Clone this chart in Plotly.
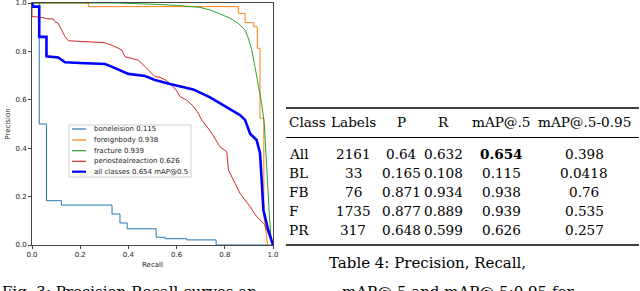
import plotly.graph_objects as go

# ---------------- data ----------------
class_names = ["boneleision", "foreignbody", "fracture", "periostealreaction"]
class_ap50 = [0.115, 0.938, 0.939, 0.626]
all_ap50 = 0.654

recall_bl = [0, 0.03, 0.03, 0.06, 0.06, 0.122, 0.122, 0.332, 0.332, 0.365, 0.365, 0.395, 0.395,
             0.515, 0.515, 0.552, 0.552, 0.642, 0.642, 0.764, 0.764, 1.0]
prec_bl = [1.0, 1.0, 0.5, 0.5, 0.183, 0.183, 0.165, 0.165, 0.128, 0.128, 0.091, 0.091, 0.067,
           0.067, 0.032, 0.032, 0.026, 0.026, 0.021, 0.021, 0.0, 0.0]

recall_fb = [0, 0.234, 0.234, 0.856, 0.856, 0.884, 0.884, 0.92, 0.92, 0.935, 0.935, 0.946, 0.946,
             0.962, 0.962, 0.978]
prec_fb = [1.0, 1.0, 0.985, 0.985, 0.957, 0.957, 0.919, 0.919, 0.902, 0.902, 0.813, 0.813, 0.524,
           0.524, 0.12, 0.0]

recall_fr = [0, 0.35, 0.5, 0.6, 0.697, 0.739, 0.78, 0.822, 0.856, 0.884, 0.898, 0.912, 0.925,
             0.939, 0.953, 0.964, 0.97, 0.976, 0.985, 0.992, 1.0]
prec_fr = [1.0, 1.0, 0.995, 0.99, 0.982, 0.971, 0.955, 0.937, 0.916, 0.888, 0.854, 0.806, 0.737,
           0.668, 0.586, 0.5, 0.39, 0.25, 0.12, 0.03, 0.0]

recall_pr = [0, 0, 0.046, 0.06, 0.088, 0.095, 0.109, 0.123, 0.137, 0.151, 0.261, 0.303, 0.344,
             0.372, 0.386, 0.441, 0.469, 0.497, 0.51, 0.531, 0.559, 0.586, 0.6, 0.614, 0.642,
             0.669, 0.69, 0.704, 0.746, 0.78, 0.808, 0.815, 0.835, 0.863, 0.905, 0.932, 0.96,
             0.965, 1.0]
prec_pr = [1.0, 0.944, 0.94, 0.935, 0.934, 0.923, 0.916, 0.888, 0.861, 0.844, 0.839, 0.836, 0.82,
           0.806, 0.778, 0.764, 0.737, 0.71, 0.696, 0.693, 0.679, 0.654, 0.638, 0.613, 0.599,
           0.574, 0.544, 0.517, 0.462, 0.406, 0.386, 0.31, 0.269, 0.214, 0.158, 0.117, 0.09,
           0.085, 0.0]

recall_all = [0, 0.005, 0.03, 0.03, 0.06, 0.06, 0.109, 0.137, 0.2, 0.303, 0.33, 0.372, 0.40,
              0.469, 0.51, 0.573, 0.62, 0.669, 0.739, 0.808, 0.863, 0.884, 0.905, 0.932, 0.946,
              0.953, 0.96, 0.98, 1.0]
prec_all = [1.0, 0.985, 0.985, 0.86, 0.86, 0.78, 0.775, 0.755, 0.752, 0.748, 0.737, 0.72, 0.707,
            0.698, 0.682, 0.665, 0.655, 0.643, 0.61, 0.569, 0.537, 0.517, 0.46, 0.434, 0.38,
            0.269, 0.145, 0.062, 0.0]

axis_ticks = [0.0, 0.2, 0.4, 0.6, 0.8, 1.0]

table_header = ["Class", "Labels", "P", "R", "mAP@.5", "mAP@.5-0.95"]
table_class = ["All", "BL", "FB", "F", "PR"]
table_labels = ["2161", "33", "76", "1735", "317"]
table_p = ["0.64", "0.165", "0.871", "0.877", "0.648"]
table_r = ["0.632", "0.108", "0.934", "0.889", "0.599"]
table_map50 = ["0.654", "0.115", "0.938", "0.939", "0.626"]
table_map5095 = ["0.398", "0.0418", "0.76", "0.535", "0.257"]

table_caption = "Table 4: Precision, Recall,"
table_caption2 = "mAP@.5 and mAP@.5:0.95 for"
fig_caption = "Fig. 3: Precision-Recall curves an"

# ---------------- styles ----------------
W, H = 640, 291
L, R, T, B = 32, 273, 3, 245          # plot area in pixels
colors = ["#1f77b4", "#ff7f0e", "#2ca02c", "#d62728"]
all_color = "#0000ff"
SERIF = "DejaVu Serif"
SANS = "DejaVu Sans"


def PX(x):
    return (x - L) / (R - L)


def PY(y):
    return (B - y) / (B - T)


fig = go.Figure()
series = [(recall_bl, prec_bl), (recall_fb, prec_fb), (recall_fr, prec_fr), (recall_pr, prec_pr)]
for (rx, py), c in zip(series, colors):
    fig.add_trace(go.Scatter(x=rx, y=py, mode="lines", line=dict(color=c, width=1),
                             showlegend=False, hoverinfo="skip"))
fig.add_trace(go.Scatter(x=recall_all, y=prec_all, mode="lines",
                         line=dict(color=all_color, width=2.6), showlegend=False, hoverinfo="skip"))

shapes = []
annotations = []

# ----- manual legend (matplotlib-like) -----
shapes.append(dict(type="rect", xref="paper", yref="paper", x0=PX(69), x1=PX(191), y0=PY(177),
                   y1=PY(125), line=dict(color="#cccccc", width=1), fillcolor="rgba(255,255,255,0.85)",
                   layer="above"))
leg_labels = [f"{n} {a:.3f}" for n, a in zip(class_names, class_ap50)] + [f"all classes {all_ap50:.3f} mAP@0.5"]
leg_colors = colors + [all_color]
leg_widths = [1.2, 1.2, 1.2, 1.2, 2.2]
leg_y = [129, 140, 150.7, 161.3, 171.7]
for lab, c, w, yy in zip(leg_labels, leg_colors, leg_widths, leg_y):
    shapes.append(dict(type="line", xref="paper", yref="paper", x0=PX(72), x1=PX(86), y0=PY(yy),
                       y1=PY(yy), line=dict(color=c, width=w), layer="above"))
    annotations.append(dict(text=lab, xref="paper", yref="paper", x=PX(91.5), y=PY(yy),
                            xanchor="left", yanchor="middle", showarrow=False,
                            font=dict(family=SANS, size=7, color="#222")))

# ----- table -----
shapes.append(dict(type="line", xref="paper", yref="paper", x0=PX(286), x1=PX(639), y0=PY(108),
                   y1=PY(108), line=dict(color="black", width=1.6)))
shapes.append(dict(type="line", xref="paper", yref="paper", x0=PX(286), x1=PX(639), y0=PY(137.5),
                   y1=PY(137.5), line=dict(color="black", width=1)))
shapes.append(dict(type="line", xref="paper", yref="paper", x0=PX(286), x1=PX(639), y0=PY(245),
                   y1=PY(245), line=dict(color="black", width=1.6)))

col_x = [287, 353, 401, 443, 501, 584]
col_anchor = ["left", "center", "center", "center", "center", "center"]
header_y = 122
row_y = [154, 172.5, 192, 211, 229.5]
TFS = 13.6


def tcell(text, x, y, anchor, bold=False):
    annotations.append(dict(text=f"<b>{text}</b>" if bold else text, xref="paper", yref="paper",
                            x=PX(x), y=PY(y), xanchor=anchor, yanchor="middle", showarrow=False,
                            font=dict(family=SERIF, size=TFS, color="black")))


for h, x, a in zip(table_header, col_x, col_anchor):
    tcell(h, x, header_y, a)
cols = [table_class, table_labels, table_p, table_r, table_map50, table_map5095]
for ci, (col, x, a) in enumerate(zip(cols, col_x, col_anchor)):
    for ri, (v, y) in enumerate(zip(col, row_y)):
        tcell(v, x, y, a, bold=(ci == 4 and ri == 0))

# ----- captions -----
annotations.append(dict(text=table_caption, xref="paper", yref="paper", x=PX(327), y=PY(263),
                        xanchor="left", yanchor="middle", showarrow=False,
                        font=dict(family=SERIF, size=15, color="black")))
annotations.append(dict(text=fig_caption, xref="paper", yref="paper", x=PX(0), y=PY(292),
                        xanchor="left", yanchor="middle", showarrow=False,
                        font=dict(family=SERIF, size=15, color="black")))
annotations.append(dict(text=table_caption2, xref="paper", yref="paper", x=PX(340), y=PY(292),
                        xanchor="left", yanchor="middle", showarrow=False,
                        font=dict(family=SERIF, size=15, color="black")))

fig.update_layout(
    width=W, height=H,
    margin=dict(l=L, r=W - R, t=T, b=H - B, pad=0),
    paper_bgcolor="white", plot_bgcolor="white",
    shapes=shapes, annotations=annotations,
    showlegend=False,
    font=dict(family=SANS, size=7, color="#222"),
)
axis_common = dict(range=[0, 1], tickvals=axis_ticks, tickformat=".1f", showgrid=False, zeroline=False,
                   showline=True, mirror=True, linecolor="#444", linewidth=1, ticks="outside",
                   ticklen=3, tickcolor="#444", tickfont=dict(family=SANS, size=7, color="#222"),
                   ticklabeloverflow="allow", automargin=False)
fig.update_xaxes(**axis_common,
                 title=dict(text="Recall", font=dict(family=SANS, size=7, color="#222"), standoff=3))
fig.update_yaxes(**axis_common,
                 title=dict(text="Precision", font=dict(family=SANS, size=7, color="#222"), standoff=4))

fig.write_html("out.html", config={"displayModeBar": False},
               post_script="document.body.style.margin='0';document.body.style.overflow='hidden';")
